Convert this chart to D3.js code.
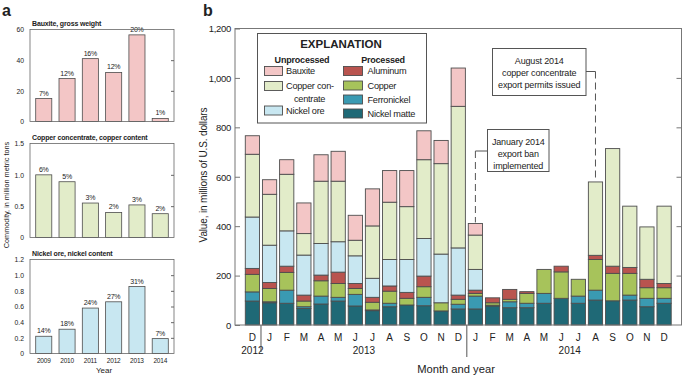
<!DOCTYPE html>
<html><head><meta charset="utf-8">
<script src="https://cdn.jsdelivr.net/npm/d3@7"></script>
<style>body{margin:0;background:#fff}svg{display:block}text{font-family:"Liberation Sans Narrow","Arial Narrow","Liberation Sans",sans-serif;fill:#222}</style>
</head><body><svg id="c" width="685" height="377"></svg>
<script>
// ---------- Panel a data ----------
const years = ["2009","2010","2011","2012","2013","2014"];
const bauxiteTons = [15, 28, 41, 32, 56.5, 2];
const bauxiteShare = ["7%","12%","16%","12%","20%","1%"];
const copperTons = [1.0, 0.89, 0.55, 0.40, 0.52, 0.38];
const copperShare = ["6%","5%","3%","2%","3%","2%"];
const nickelTons = [0.22, 0.31, 0.58, 0.66, 0.855, 0.19];
const nickelShare = ["14%","18%","24%","27%","31%","7%"];

// ---------- Panel b data ----------
const months = ["D","J","F","M","A","M","J","J","A","S","O","N","D","J","F","M","A","M","J","J","A","S","O","N","D"];
const monthYears = ["2012","2013","2013","2013","2013","2013","2013","2013","2013","2013","2013","2013","2013","2014","2014","2014","2014","2014","2014","2014","2014","2014","2014","2014","2014"];
const nickelMatte = [97,90,88,67,85,97,77,58,74,81,78,57,65,65,77,70,70,88,108,88,101,98,101,74,88];
const ferronickel = [37,4,53,7,32,15,47,3,14,0,34,0,19,52,3,24,18,40,0,29,40,0,20,34,20];
const copper = [71,54,72,23,62,56,24,31,49,27,43,33,20,11,10,10,40,97,107,68,124,111,88,43,43];
const aluminum = [24,24,25,24,23,46,20,20,21,24,43,0,17,13,20,40,7,0,23,0,17,29,24,34,17];
const nickelOre = [208,151,143,162,128,123,112,77,107,133,152,197,191,84,0,0,0,0,0,0,0,0,0,0,0];
const copperConc = [254,206,229,87,252,245,63,212,232,214,319,366,573,139,0,0,0,0,0,0,297,476,248,212,313];
const bauxite = [75,59,59,124,107,121,101,150,128,146,117,94,155,47,0,0,0,0,0,0,0,0,0,0,0];
const yTicksB = [0,200,400,600,800,1000,1200];

const seriesKeys = ["Nickel matte","Ferronickel","Copper","Aluminum","Nickel ore","Copper concentrate","Bauxite"];
const seriesVals = [nickelMatte,ferronickel,copper,aluminum,nickelOre,copperConc,bauxite];
const colors = {"Bauxite":"#f3c6c6","Copper concentrate":"#e2ecc9","Nickel ore":"#c8e7f1",
  "Aluminum":"#b9544f","Copper":"#a7c35b","Ferronickel":"#3a9ab2","Nickel matte":"#1f6976"};
const STROKE = "#4d4d4d";

const svg = d3.select("#c");

// ---------- Panel a ----------
svg.append("text").attr("x",2).attr("y",16).attr("font-size",16).attr("font-weight","bold")
  .style("font-family","Liberation Sans, sans-serif").text("a");

function smallChart(top, bottom, max, ticks, vals, shares, title, color, tickFmt, showYears){
  const x = d3.scaleBand().domain(years).range([30,174]).paddingInner(0.31).paddingOuter(0.245);
  const y = d3.scaleLinear().domain([0,max]).range([bottom, top]);
  const g = svg.append("g");
  g.append("text").attr("x",32).attr("y",top-4).attr("font-size",7).attr("letter-spacing",-0.15)
    .attr("font-weight","bold").text(title);
  g.selectAll("rect.bar").data(vals).join("rect").attr("class","bar")
    .attr("x",(d,i)=>x(years[i])).attr("width",x.bandwidth())
    .attr("y",d=>y(d)).attr("height",d=>y(0)-y(d))
    .attr("fill",color).attr("stroke",STROKE).attr("stroke-width",0.8);
  g.selectAll("text.pct").data(vals).join("text").attr("class","pct")
    .attr("x",(d,i)=>x(years[i])+x.bandwidth()/2).attr("y",d=>y(d)-3)
    .attr("text-anchor","middle").attr("font-size",7).attr("letter-spacing",-0.2).text((d,i)=>shares[i]);
  g.append("rect").attr("x",30).attr("y",top).attr("width",144).attr("height",bottom-top)
    .attr("fill","none").attr("stroke","#666").attr("stroke-width",0.8);
  const ax = g.append("g").attr("transform","translate(30,0)")
    .call(d3.axisLeft(y).tickValues(ticks).tickSize(0).tickPadding(6).tickFormat(tickFmt));
  ax.select(".domain").remove();
  ax.selectAll("text").attr("font-size",6.8).style("font-family",null);
  const axr = g.append("g").attr("transform","translate(174,0)")
    .call(d3.axisRight(y).tickValues(ticks.slice(1,-1)).tickSize(-3).tickFormat(""));
  axr.select(".domain").remove();
  axr.selectAll("line").attr("stroke","#666");
  if(showYears){
    const axb = g.append("g").attr("transform",`translate(0,${bottom})`)
      .call(d3.axisBottom(x).tickSize(0).tickPadding(5));
    axb.select(".domain").remove();
    axb.selectAll("text").attr("font-size",6.5).attr("letter-spacing",-0.2).style("font-family",null);
  }
}
smallChart(29.5,121.5,60,[0,20,40,60],bauxiteTons,bauxiteShare,"Bauxite, gross weight",colors["Bauxite"],d3.format("d"),false);
smallChart(143.5,237.5,1.5,[0,0.5,1.0,1.5],copperTons,copperShare,"Copper concentrate, copper content",colors["Copper concentrate"],d=>d===0?"0":d3.format(".1f")(d),false);
smallChart(259.5,353.5,1.2,[0,0.2,0.4,0.6,0.8,1.0,1.2],nickelTons,nickelShare,"Nickel ore, nickel content",colors["Nickel ore"],d=>d===0?"0":d3.format(".1f")(d),true);
svg.append("text").attr("x",104).attr("y",373).attr("text-anchor","middle").attr("font-size",8).text("Year");
svg.append("text").attr("transform","translate(9,195) rotate(-90)").attr("text-anchor","middle")
  .attr("font-size",7.3).text("Commodity, in million metric tons");

// ---------- Panel b ----------
svg.append("text").attr("x",203).attr("y",16).attr("font-size",16).attr("font-weight","bold")
  .style("font-family","Liberation Sans, sans-serif").text("b");
const L=235, R=681.5, T=28.5, B=325;
const idx = d3.range(months.length);
const xb = d3.scaleBand().domain(idx).range([L,R]).paddingInner(0.17).paddingOuter(0.6);
const yb = d3.scaleLinear().domain([0,1200]).range([B,T]);
const table = idx.map(i=>{const o={i}; seriesKeys.forEach((k,j)=>o[k]=seriesVals[j][i]); return o;});
const stacked = d3.stack().keys(seriesKeys)(table);
const gb = svg.append("g");
stacked.forEach(layer=>{
  gb.selectAll(null).data(layer.filter(d=>d[1]-d[0]>0)).join("rect")
    .attr("x",d=>xb(d.data.i)).attr("width",xb.bandwidth())
    .attr("y",d=>yb(d[1])).attr("height",d=>yb(d[0])-yb(d[1]))
    .attr("fill",colors[layer.key]).attr("stroke",STROKE).attr("stroke-width",0.9);
});
gb.append("rect").attr("x",L).attr("y",T).attr("width",R-L).attr("height",B-T)
  .attr("fill","none").attr("stroke","#777").attr("stroke-width",1);
const yAx = gb.append("g").attr("transform",`translate(${L},0)`)
  .call(d3.axisLeft(yb).tickValues(yTicksB).tickSize(-5).tickPadding(4).tickFormat(d3.format(",")));
yAx.select(".domain").remove();
yAx.selectAll("line").attr("stroke","#777");
yAx.selectAll("text").attr("font-size",9.5).attr("letter-spacing",-0.3).style("font-family",null).attr("dy","0.35em");
const yAxR = gb.append("g").attr("transform",`translate(${R},0)`)
  .call(d3.axisRight(yb).tickValues(yTicksB.slice(1,-1)).tickSize(-5).tickFormat(""));
yAxR.select(".domain").remove();
yAxR.selectAll("line").attr("stroke","#777");
// month labels
gb.selectAll("text.mon").data(months).join("text").attr("class","mon")
  .attr("x",(d,i)=>xb(i)+xb.bandwidth()/2).attr("y",340.5).attr("text-anchor","middle")
  .attr("font-size",10).text(d=>d);
const yearGroups = d3.groups(idx,i=>monthYears[i]);
yearGroups.forEach(([yr,arr])=>{
  const x0 = xb(arr[0]), x1 = xb(arr[arr.length-1])+xb.bandwidth();
  gb.append("text").attr("x",(x0+x1)/2).attr("y",354).attr("text-anchor","middle").attr("font-size",10).text(yr);
});
[13,1].forEach(i=>{
  const xs = xb(i) - xb.step()*xb.paddingInner()/2;
  gb.append("line").attr("x1",xs).attr("x2",xs).attr("y1",B).attr("y2",i===1?352:357)
    .attr("stroke","#555").attr("stroke-width",1);
});
svg.append("text").attr("x",456).attr("y",373).attr("text-anchor","middle").attr("font-size",11.2).text("Month and year");
svg.append("text").attr("transform","translate(207,175) rotate(-90)").attr("text-anchor","middle")
  .attr("font-size",10).attr("letter-spacing",-0.15).text("Value, in millions of U.S. dollars");

// legend
const lg = svg.append("g");
lg.append("rect").attr("x",257.5).attr("y",33.5).attr("width",169).attr("height",89.5)
  .attr("fill","#fff").attr("stroke","#555").attr("stroke-width",1);
lg.append("text").attr("x",341).attr("y",47.5).attr("text-anchor","middle").attr("font-size",11.5)
  .attr("font-weight","bold").text("EXPLANATION");
lg.append("text").attr("x",302).attr("y",63).attr("text-anchor","middle").attr("font-size",9).attr("letter-spacing",-0.2).attr("font-weight","bold").text("Unprocessed");
lg.append("text").attr("x",383).attr("y",63).attr("text-anchor","middle").attr("font-size",9).attr("letter-spacing",-0.2).attr("font-weight","bold").text("Processed");
const legLeft = [["Bauxite",71,["Bauxite"]],["Copper concentrate",86,["Copper con-","centrate"]],["Nickel ore",110.5,["Nickel ore"]]];
const legRight = [["Aluminum",71],["Copper",85.5],["Ferronickel",99.5],["Nickel matte",113.5]];
legLeft.forEach(([k,yc,lines])=>{
  lg.append("rect").attr("x",264.5).attr("y",yc-4.5).attr("width",18).attr("height",9)
    .attr("fill",colors[k]).attr("stroke",STROKE).attr("stroke-width",0.9);
  lines.forEach((t,j)=>lg.append("text").attr("x",j===0?286:294).attr("y",yc+3.3+j*12.5)
    .attr("font-size",9.2).attr("letter-spacing",-0.25).text(t));
});
legRight.forEach(([k,yc])=>{
  lg.append("rect").attr("x",343.5).attr("y",yc-4.5).attr("width",19).attr("height",9)
    .attr("fill",colors[k]).attr("stroke",STROKE).attr("stroke-width",0.9);
  lg.append("text").attr("x",367.5).attr("y",yc+3.3).attr("font-size",9.2).attr("letter-spacing",-0.25).text(k);
});

// annotations
function annot(bx,by,bw,bh,lines,barIndex,side,ly){
  const g = svg.append("g");
  g.append("rect").attr("x",bx).attr("y",by).attr("width",bw).attr("height",bh)
    .attr("fill","#fff").attr("stroke","#555").attr("stroke-width",1);
  lines.forEach((t,j)=>g.append("text").attr("x",bx+bw/2).attr("y",by+15+j*12).attr("text-anchor","middle")
    .attr("font-size",9).attr("letter-spacing",-0.15).text(t));
  const cx = xb(barIndex)+xb.bandwidth()/2;
  const total = d3.sum(seriesVals,s=>s[barIndex]);
  const ex = side==="right"? bx+bw : bx;
  g.append("line").attr("x1",ex).attr("x2",cx).attr("y1",ly).attr("y2",ly).attr("stroke","#555");
  g.append("line").attr("x1",cx).attr("x2",cx).attr("y1",ly).attr("y2",yb(total)-1)
    .attr("stroke","#555").attr("stroke-dasharray","7,4");
}
annot(492.5,48.5,93.5,47,["August 2014","copper concentrate","export permits issued"],20,"right",71.5);
annot(487.5,129.5,61.5,42,["January 2014","export ban","implemented"],13,"left",151);
</script></body></html>
